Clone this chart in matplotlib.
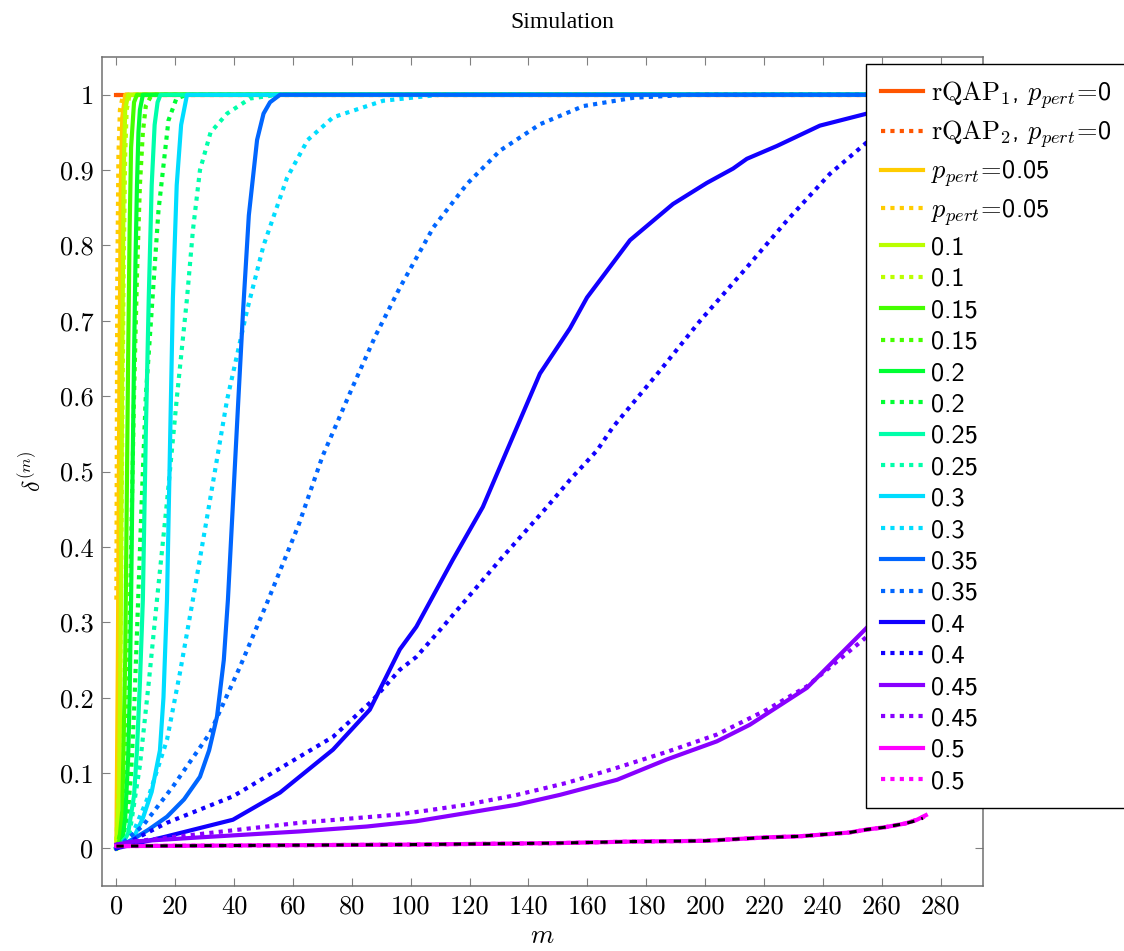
import matplotlib
matplotlib.use('Agg')
import matplotlib.pyplot as plt

plt.rcParams['mathtext.fontset'] = 'cm'

# ---- data (m, delta^(m)) ----
p_labels = ['0', '0.05', '0.1', '0.15', '0.2', '0.25', '0.3', '0.35', '0.4', '0.45', '0.5']
colors = ['#ff5500', '#ffcc00', '#bbff00', '#44ff00', '#00ff33', '#00ffaa',
          '#00ddff', '#0066ff', '#1100ff', '#8800ff', '#ff00ff']

m_000_s = [0, 1, 2, 275]
d_000_s = [1, 1, 1, 1]
m_000_d = [0, 1, 2, 275]
d_000_d = [1, 1, 1, 1]

m_005_s = [0, 0.5, 1, 1.5, 2, 3, 275]
d_005_s = [0, 0.25, 0.6, 0.88, 0.97, 1, 1]
m_005_d = [0, 0.3, 0.7, 1.2, 2, 3, 275]
d_005_d = [0.33, 0.75, 0.92, 0.98, 0.995, 1, 1]

m_010_s = [0, 1, 1.5, 2, 2.5, 3, 4, 275]
d_010_s = [0, 0.08, 0.3, 0.65, 0.9, 0.98, 1, 1]
m_010_d = [0, 1, 1.5, 2, 2.5, 3, 3.5, 4.5, 275]
d_010_d = [0.01, 0.1, 0.3, 0.55, 0.78, 0.92, 0.98, 1, 1]

m_015_s = [0, 1, 2, 3, 3.5, 4, 4.5, 5, 6, 7, 275]
d_015_s = [0, 0.01, 0.05, 0.25, 0.45, 0.65, 0.82, 0.93, 0.99, 1, 1]
m_015_d = [0, 2, 3, 4, 5, 6, 7, 8, 9, 10, 12, 275]
d_015_d = [0, 0.03, 0.08, 0.2, 0.4, 0.6, 0.76, 0.88, 0.95, 0.985, 1, 1]

m_020_s = [0, 2, 3, 4, 4.5, 5, 5.5, 6, 6.5, 7, 7.5, 8, 9, 275]
d_020_s = [0, 0.01, 0.04, 0.12, 0.2, 0.33, 0.5, 0.65, 0.78, 0.88, 0.95, 0.98, 1, 1]
m_020_d = [0, 2, 4, 5, 6, 7.5, 8.6, 10, 12, 14.3, 17.7, 20.4, 24, 275]
d_020_d = [0, 0.01, 0.05, 0.1, 0.18, 0.34, 0.46, 0.6, 0.714, 0.846, 0.966, 0.995, 1, 1]

m_025_s = [0, 2, 4, 6, 7, 8, 9, 10, 11, 12, 13, 14, 15, 275]
d_025_s = [0, 0.005, 0.02, 0.07, 0.13, 0.22, 0.33, 0.55, 0.73, 0.88, 0.96, 0.99, 1, 1]
m_025_d = [0, 4.5, 8, 11, 13.8, 17.2, 20.6, 24, 26, 28.4, 32, 37.6, 45.4, 55, 275]
d_025_d = [0, 0.02, 0.11, 0.22, 0.33, 0.46, 0.6, 0.73, 0.82, 0.9, 0.95, 0.975, 0.995, 1, 1]

m_030_s = [0, 5.6, 9, 12, 14.8, 16, 17.2, 18.2, 19.2, 20.5, 22, 24, 275]
d_030_s = [0, 0.012, 0.04, 0.075, 0.13, 0.2, 0.33, 0.53, 0.73, 0.88, 0.96, 1, 1]
m_030_d = [0, 5.6, 11.4, 17.2, 21.6, 26, 31.8, 37.6, 44.4, 50, 58, 65, 73.6, 90.6, 110, 275]
d_030_d = [0, 0.02, 0.074, 0.144, 0.233, 0.33, 0.462, 0.595, 0.714, 0.8, 0.89, 0.94,
           0.97, 0.992, 1, 1]

m_035_s = [0, 5.6, 11, 17.2, 23, 28.4, 31.5, 34.2, 36.5, 37.9, 39.5, 41.5, 43, 45,
           47.8, 50, 52.2, 55.6, 275]
d_035_s = [0, 0.012, 0.025, 0.042, 0.065, 0.095, 0.13, 0.175, 0.25, 0.33, 0.45, 0.6,
           0.71, 0.84, 0.94, 0.975, 0.99, 1, 1]
m_035_d = [0, 9, 19.2, 31.8, 42, 51.2, 62, 70, 80, 88, 96.3, 107.7, 119.2, 130.4,
           144, 158.7, 175.7, 195, 275]
d_035_d = [0, 0.03, 0.082, 0.153, 0.241, 0.326, 0.43, 0.52, 0.61, 0.68, 0.744, 0.824,
           0.882, 0.926, 0.961, 0.985, 0.996, 1, 1]

m_040_s = [0, 17.2, 39.6, 55.6, 73.6, 86.1, 96.3, 101.9, 114.3, 124.5, 132.7, 143.9,
           154.1, 159.9, 174.5, 189.1, 200.6, 209.5, 214.2, 224.4, 239, 255, 275]
d_040_s = [0, 0.016, 0.038, 0.074, 0.131, 0.184, 0.264, 0.294, 0.383, 0.453, 0.528,
           0.63, 0.69, 0.731, 0.807, 0.855, 0.883, 0.902, 0.915, 0.932, 0.959, 0.975, 0.988]
m_040_d = [0, 17.2, 39.6, 62.4, 73.6, 87.2, 96.3, 101.9, 110.9, 130.4, 146.3, 154.1,
           163.3, 168.7, 184.7, 198.3, 214.2, 227.8, 242.4, 255, 275]
d_040_d = [0, 0.034, 0.069, 0.122, 0.148, 0.197, 0.237, 0.254, 0.294, 0.383, 0.453,
           0.489, 0.528, 0.559, 0.634, 0.70, 0.771, 0.833, 0.895, 0.937, 0.98]

m_045_s = [0, 5.6, 28.4, 62.4, 85.1, 101.9, 119.1, 136.1, 150.7, 170.1, 187, 204,
           215.2, 234.6, 255, 275]
d_045_s = [0.005, 0.009, 0.0146, 0.0225, 0.029, 0.036, 0.047, 0.058, 0.071, 0.091,
           0.118, 0.142, 0.164, 0.213, 0.293, 0.38]
m_045_d = [0, 5.6, 28.4, 62.4, 96.3, 119.1, 136.1, 153.1, 170.1, 187, 204, 221,
           234.6, 255, 275]
d_045_d = [0.005, 0.009, 0.019, 0.034, 0.045, 0.058, 0.071, 0.087, 0.107, 0.128,
           0.151, 0.184, 0.215, 0.281, 0.37]

m_050_s = [0, 50, 100, 150, 175, 200, 221, 232, 249, 255, 261, 268, 272, 275]
d_050_s = [0.003, 0.004, 0.005, 0.007, 0.009, 0.01, 0.0146, 0.016, 0.021, 0.025,
           0.028, 0.033, 0.038, 0.044]
m_050_d = [0, 50, 100, 150, 175, 200, 221, 232, 249, 255, 261, 268, 272, 275]
d_050_d = [0.003, 0.004, 0.005, 0.007, 0.009, 0.01, 0.0146, 0.016, 0.021, 0.025,
           0.028, 0.033, 0.038, 0.043]

# black dashed curve on top of the 0.5 curves (not in legend)
m_black = [0, 50, 100, 150, 175, 200, 221, 232, 249, 255, 261, 268, 272, 274]
d_black = [0.003, 0.004, 0.005, 0.007, 0.009, 0.01, 0.0145, 0.016, 0.021, 0.025,
           0.028, 0.033, 0.037, 0.040]

solid = [(m_000_s, d_000_s), (m_005_s, d_005_s), (m_010_s, d_010_s), (m_015_s, d_015_s),
         (m_020_s, d_020_s), (m_025_s, d_025_s), (m_030_s, d_030_s), (m_035_s, d_035_s),
         (m_040_s, d_040_s), (m_045_s, d_045_s), (m_050_s, d_050_s)]
dotted = [(m_000_d, d_000_d), (m_005_d, d_005_d), (m_010_d, d_010_d), (m_015_d, d_015_d),
          (m_020_d, d_020_d), (m_025_d, d_025_d), (m_030_d, d_030_d), (m_035_d, d_035_d),
          (m_040_d, d_040_d), (m_045_d, d_045_d), (m_050_d, d_050_d)]

x_ticks = list(range(0, 281, 20))
y_ticks = [0, 0.1, 0.2, 0.3, 0.4, 0.5, 0.6, 0.7, 0.8, 0.9, 1]
y_tick_labels = ['0', '0.1', '0.2', '0.3', '0.4', '0.5', '0.6', '0.7', '0.8', '0.9', '1']

# ---- figure ----
fig = plt.figure(figsize=(11.24, 9.51), dpi=100)
ax = fig.add_axes([0.0907, 0.0683, 0.7838, 0.8717])

lw = 3.0
for i, lab in enumerate(p_labels):
    if i == 0:
        lab_s = r'$\mathrm{rQAP}_1$, $p_{pert}\!=\!$0'
        lab_d = r'$\mathrm{rQAP}_2$, $p_{pert}\!=\!$0'
    elif i == 1:
        lab_s = lab_d = r'$p_{pert}\!=\!$' + lab
    else:
        lab_s = lab_d = lab
    ax.plot(solid[i][0], solid[i][1], color=colors[i], lw=lw, ls='-',
            solid_joinstyle='round', label=lab_s)
    ax.plot(dotted[i][0], dotted[i][1], color=colors[i], lw=lw, ls=(0, (1, 1.25)),
            dash_capstyle='butt', label=lab_d)

ax.plot(m_black, d_black, color='black', lw=2.2, ls=(0, (2.4, 2.4)))

ax.set_xlim(-4.9, 294.4)
ax.set_ylim(-0.05, 1.05)

ax.set_xticks(x_ticks, labels=[str(t) for t in x_ticks])
ax.set_yticks(y_ticks, labels=y_tick_labels)
for t in ax.get_xticklabels() + ax.get_yticklabels():
    t.set_fontfamily('cmr10')
    t.set_fontsize(19)
ax.tick_params(direction='in', length=6, width=0.8, color='#808080',
               top=True, right=True, pad=6)
for s in ax.spines.values():
    s.set_color('#707070')
    s.set_linewidth(1.1)

ax.set_xlabel(r'$m$', fontsize=19)
ax.xaxis.set_label_coords(0.5, -0.044)
ax.set_ylabel(r'$\delta^{(m)}$', fontsize=17)
ax.yaxis.set_label_coords(-0.063, 0.5)

fig.text(0.5, 1 - 23 / 951, 'Simulation', ha='center', va='center',
         family='Liberation Serif', fontsize=17)

leg = ax.legend(loc='upper left', bbox_to_anchor=(866 / 1124, 1 - 64 / 951),
                bbox_transform=fig.transFigure, prop={'family': 'cmss10', 'size': 19},
                fancybox=False, framealpha=1, edgecolor='black', borderpad=0.55,
                labelspacing=0.3, handlelength=1.6, handletextpad=0.3,
                borderaxespad=0)
leg.get_frame().set_linewidth(1.0)

fig.savefig('out.png', dpi=100)
